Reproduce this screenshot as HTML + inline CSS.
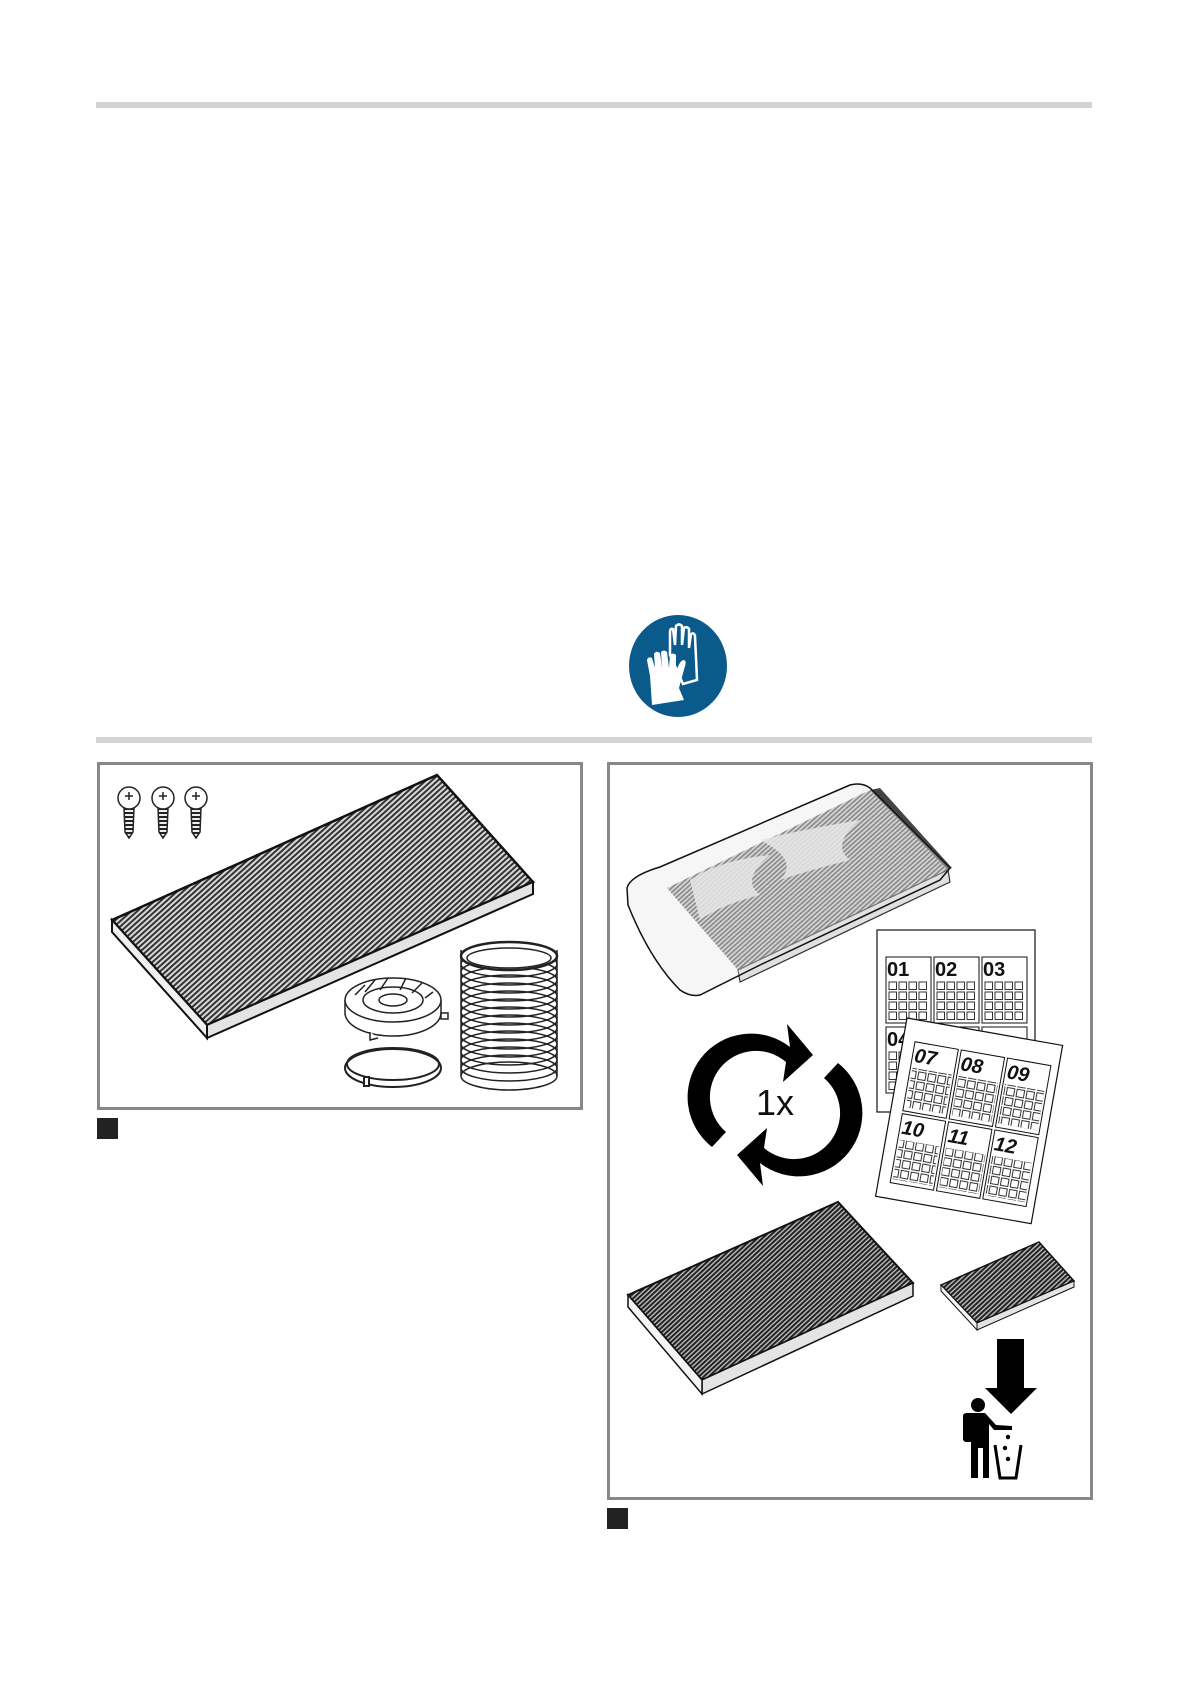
<!DOCTYPE html>
<html><head><meta charset="utf-8"><style>
html,body{margin:0;padding:0;background:#fff}
svg{display:block}
</style></head><body>
<svg width="1191" height="1684" viewBox="0 0 1191 1684" xmlns="http://www.w3.org/2000/svg" font-family="Liberation Sans, sans-serif">
<defs>
<pattern id="hatch" width="4" height="4" patternUnits="userSpaceOnUse" patternTransform="rotate(48)">
<rect width="4" height="4" fill="#d8d8d8"/><rect width="2" height="4" fill="#333"/></pattern>
<pattern id="hatch2" width="3.4" height="4" patternUnits="userSpaceOnUse" patternTransform="rotate(47)">
<rect width="4" height="4" fill="#bbb"/><rect width="2" height="4" fill="#222"/></pattern>
<pattern id="hatch3" width="3.4" height="4" patternUnits="userSpaceOnUse" patternTransform="rotate(48)">
<rect width="4" height="4" fill="#ccc"/><rect width="1.6" height="4" fill="#555"/></pattern>
<pattern id="sq" width="10" height="10" patternUnits="userSpaceOnUse">
<rect x="1" y="1" width="7.5" height="7.5" fill="#fff" stroke="#333" stroke-width="1"/></pattern>
<pattern id="thread" width="7" height="4" patternUnits="userSpaceOnUse">
<rect width="7" height="4" fill="#eee"/><rect width="7" height="2" fill="#222"/></pattern>
</defs>
<rect x="96" y="102" width="996" height="6" fill="#d3d3d3"/>
<rect x="96" y="737" width="996" height="6" fill="#d3d3d3"/>

<!-- gloves -->
<ellipse cx="678" cy="666" rx="49" ry="51" fill="#0b5a8c"/>
<path d="M670 655 L670 632 Q670 628 673 629 L675 645 L676 626 Q679 623 682 626 L682 645 L684 628 Q687 626 689 629 L689 648 L691 634 Q694 632 695 636 L697 680 L683 684 Z" fill="none" stroke="#fff" stroke-width="2.5"/>
<path d="M652 705 L650 676 L647 660 Q648 656 652 658 L655 668 L654 654 Q656 650 660 653 L662 668 L661 652 Q664 649 667 652 L669 668 L670 655 Q673 652 676 655 L676 672 Q679 662 683 660 Q687 660 685 666 L679 688 L684 700 Z" fill="#fff"/>

<!-- left frame -->
<rect x="98.5" y="763.5" width="483" height="345" fill="#fff" stroke="#888" stroke-width="3"/>
<rect x="97" y="1118" width="21" height="21" fill="#222"/>

<!-- screws -->
<g stroke="#222" stroke-width="1.5">
<g transform="translate(129,0)"><path d="M-5 808 L5 808 L4 832 L0 838 L-4 832 Z" fill="url(#thread)"/><circle cx="0" cy="798" r="11" fill="#fff"/><path d="M-4 796 h8 M0 792 v8" fill="none"/></g>
<g transform="translate(163,0)"><path d="M-5 808 L5 808 L4 832 L0 838 L-4 832 Z" fill="url(#thread)"/><circle cx="0" cy="798" r="11" fill="#fff"/><path d="M-4 796 h8 M0 792 v8" fill="none"/></g>
<g transform="translate(196,0)"><path d="M-5 808 L5 808 L4 832 L0 838 L-4 832 Z" fill="url(#thread)"/><circle cx="0" cy="798" r="11" fill="#fff"/><path d="M-4 796 h8 M0 792 v8" fill="none"/></g>
</g>

<!-- left filter -->
<polygon points="112,920 437,775 533,882 207,1025" fill="url(#hatch)" stroke="#111" stroke-width="2.5"/>
<polygon points="207,1025 533,882 533,894 207,1038" fill="#e4e4e4" stroke="#111" stroke-width="2"/>
<polygon points="112,920 207,1025 207,1038 112,932" fill="#f0f0f0" stroke="#111" stroke-width="2"/>

<!-- cover -->
<g fill="#fff" stroke="#222" stroke-width="1.5">
<path d="M345 1000 L345 1013 A48 23 0 0 0 441 1013 L441 1000"/>
<ellipse cx="393" cy="1000" rx="48" ry="22"/>
<ellipse cx="393" cy="1000" rx="30" ry="13"/>
<ellipse cx="393" cy="1000" rx="14" ry="6"/>
<path d="M355 995 l10 -10 M365 992 l10 -12 M380 990 l8 -12 M400 990 l6 -12 M412 993 l10 -10 M425 998 l8 -6" fill="none"/>
<rect x="441" y="1013" width="7" height="6"/>
<path d="M370 1032 l0 8 l8 -2"/>
</g>
<!-- ring -->
<g fill="none" stroke="#222" stroke-width="2">
<ellipse cx="393" cy="1068" rx="48" ry="19"/>
<ellipse cx="393" cy="1064" rx="46" ry="16"/>
<rect x="364" y="1077" width="5" height="9" fill="#fff"/>
</g>
<!-- hose -->
<g fill="none" stroke="#222" stroke-width="1.5">
<rect x="461" y="950" width="96" height="125" fill="#fff" stroke="none"/>
<ellipse cx="509" cy="1076" rx="48" ry="14" fill="#fff"/>
<path d="M461 950 L461 1076 M557 950 L557 1076"/>
<ellipse cx="509" cy="1068" rx="48" ry="13"/><ellipse cx="509" cy="1060" rx="48" ry="13"/>
<ellipse cx="509" cy="1052" rx="48" ry="13"/><ellipse cx="509" cy="1044" rx="48" ry="13"/>
<ellipse cx="509" cy="1036" rx="48" ry="13"/><ellipse cx="509" cy="1028" rx="48" ry="13"/>
<ellipse cx="509" cy="1020" rx="48" ry="13"/><ellipse cx="509" cy="1012" rx="48" ry="13"/>
<ellipse cx="509" cy="1004" rx="48" ry="13"/><ellipse cx="509" cy="996" rx="48" ry="13"/>
<ellipse cx="509" cy="988" rx="48" ry="13"/><ellipse cx="509" cy="980" rx="48" ry="13"/>
<ellipse cx="509" cy="972" rx="48" ry="13"/><ellipse cx="509" cy="964" rx="48" ry="13"/>
<ellipse cx="509" cy="956" rx="48" ry="14" fill="#fff" stroke-width="2.5"/>
<ellipse cx="509" cy="958" rx="42" ry="10"/>
</g>

<!-- right frame -->
<rect x="608.5" y="763.5" width="483" height="735" fill="#fff" stroke="#888" stroke-width="3"/>
<rect x="607" y="1508" width="21" height="21" fill="#222"/>

<!-- bagged filter -->
<polygon points="667,888 870,790 948,870 738,970" fill="url(#hatch3)"/>
<path d="M690 880 Q720 860 770 855 Q740 880 760 895 Q720 905 700 920 Z" fill="#e8e8e8" opacity="0.85"/>
<path d="M760 840 Q800 830 860 820 Q830 845 850 860 Q810 870 780 880 Q800 860 760 840Z" fill="#e8e8e8" opacity="0.85"/>
<polygon points="738,970 948,870 950,882 740,982" fill="#e0e0e0" stroke="#333" stroke-width="1.2"/>
<polygon points="870,790 880,788 952,868 948,870" fill="#444"/>
<path d="M627 888 Q630 876 660 867 L850 785 Q862 782 870 788 L950 868 L940 880 L760 965 Q720 985 700 995 Q690 997 680 990 Q650 960 628 905 Z" fill="rgba(230,230,230,0.35)" stroke="#111" stroke-width="1.5"/>

<!-- sheets -->
<rect x="877" y="930" width="158" height="182" fill="#fff" stroke="#111" stroke-width="1.2"/>
<g font-weight="bold" font-size="20" fill="#111">
<rect x="886" y="957" width="45" height="66" fill="none" stroke="#111"/><text x="887" y="976">01</text>
<rect x="934" y="957" width="45" height="66" fill="none" stroke="#111"/><text x="935" y="976">02</text>
<rect x="982" y="957" width="45" height="66" fill="none" stroke="#111"/><text x="983" y="976">03</text>
<rect x="886" y="1027" width="45" height="66" fill="none" stroke="#111"/><text x="887" y="1046">04</text>
<rect x="934" y="1027" width="45" height="66" fill="none" stroke="#111"/>
<rect x="982" y="1027" width="45" height="66" fill="none" stroke="#111"/>
<g transform="translate(888,981)"><rect width="40" height="40" fill="url(#sq)"/></g>
<g transform="translate(936,981)"><rect width="40" height="40" fill="url(#sq)"/></g>
<g transform="translate(984,981)"><rect width="40" height="40" fill="url(#sq)"/></g>
<g transform="translate(888,1051)"><rect width="40" height="40" fill="url(#sq)"/></g>
</g>
<g transform="translate(907,1018) rotate(10)">
<rect x="0" y="0" width="158" height="181" fill="#fff" stroke="#111" stroke-width="1.2"/>
<g fill="none" stroke="#111" stroke-width="1">
<rect x="12" y="22" width="44" height="70"/><rect x="59" y="22" width="44" height="70"/><rect x="106" y="22" width="44" height="70"/>
<rect x="12" y="95" width="44" height="70"/><rect x="59" y="95" width="44" height="70"/><rect x="106" y="95" width="44" height="70"/>
</g>
<rect x="14" y="48" width="40" height="40" fill="url(#sq)"/><rect x="61" y="48" width="40" height="40" fill="url(#sq)"/><rect x="108" y="48" width="40" height="40" fill="url(#sq)"/>
<rect x="14" y="121" width="40" height="40" fill="url(#sq)"/><rect x="61" y="121" width="40" height="40" fill="url(#sq)"/><rect x="108" y="121" width="40" height="40" fill="url(#sq)"/>
<g font-weight="bold" font-size="20" fill="#111" font-style="italic">
<text x="14" y="42">07</text><text x="61" y="42">08</text><text x="108" y="42">09</text>
<text x="14" y="115">10</text><text x="61" y="115">11</text><text x="108" y="115">12</text>
</g>
</g>

<!-- recycle -->
<g fill="#000">
<path d="M712 1147 A60 60 0 0 1 790 1047 L787 1024 L813 1055 L783 1082 L786 1062 A45 45 0 0 0 726 1132 Z"/>
<path d="M838 1063 A60 60 0 0 1 760 1163 L763 1186 L737 1155 L767 1128 L764 1148 A45 45 0 0 0 824 1078 Z"/>
</g>
<text x="775" y="1115" font-size="36" text-anchor="middle" fill="#111">1x</text>

<!-- big filter -->
<polygon points="628,1295 838,1202 913,1283 702,1380" fill="url(#hatch2)" stroke="#111" stroke-width="2"/>
<polygon points="702,1380 913,1283 913,1296 702,1394" fill="#e4e4e4" stroke="#111" stroke-width="1.5"/>
<polygon points="628,1295 702,1380 702,1394 628,1307" fill="#f4f4f4" stroke="#111" stroke-width="1.5"/>
<!-- small filter -->
<polygon points="941,1285 1039,1242 1074,1281 977,1323" fill="url(#hatch2)" stroke="#111" stroke-width="1.5"/>
<polygon points="977,1323 1074,1281 1074,1287 977,1330" fill="#e4e4e4" stroke="#111" stroke-width="1"/>
<polygon points="941,1285 977,1323 977,1330 941,1291" fill="#f4f4f4" stroke="#111" stroke-width="1"/>

<!-- arrow down -->
<polygon points="997,1339 1024,1339 1024,1388 1037,1388 1011,1414 985,1388 997,1388" fill="#000"/>
<!-- person -->
<circle cx="978" cy="1405" r="7" fill="#000"/>
<path d="M963 1416 Q963 1413 967 1413 L985 1413 L996 1425 L1012 1426 L1012 1430 L994 1430 L989 1424 L989 1478 L983 1478 L983 1448 L978 1448 L978 1478 L971 1478 L971 1442 L965 1442 L963 1440 Z" fill="#000"/>
<circle cx="1008" cy="1437" r="2.2" fill="#000"/><circle cx="1005" cy="1448" r="2.2" fill="#000"/><circle cx="1008" cy="1459" r="2.2" fill="#000"/>
<path d="M995 1445 L1000 1478 L1016 1478 L1021 1445" fill="none" stroke="#000" stroke-width="3"/>
</svg>
</body></html>
